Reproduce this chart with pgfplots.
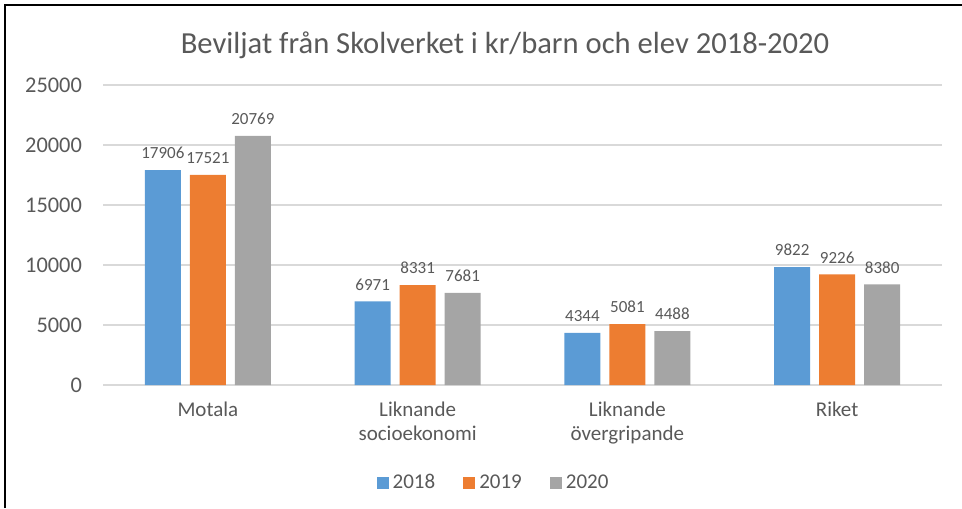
\documentclass[border=0pt]{standalone}
\usepackage{fontspec}
\setmainfont{Carlito}
\usepackage{pgfplots}
\pgfplotsset{compat=1.18}
\definecolor{c2018}{HTML}{5B9BD5}
\definecolor{c2019}{HTML}{ED7D31}
\definecolor{c2020}{HTML}{A5A5A5}
\definecolor{txtgray}{HTML}{595959}
\definecolor{gridgray}{HTML}{D9D9D9}

\begin{document}
\begin{tikzpicture}
\useasboundingbox (0,0) rectangle (481pt,-254pt);
% chart frame (cut off on the right and at the bottom)
\draw[line width=1pt] (2.5pt,-254pt) -- (2.5pt,-2.5pt) -- (481pt,-2.5pt);
\node[font=\fontsize{15.3}{18}\selectfont, text=txtgray] at (252.5pt,-22.5pt)
  {Beviljat från Skolverket i kr/barn och elev 2018-2020};
\begin{axis}[
    at={(51.5pt,-192.5pt)}, anchor=south west,
    scale only axis, width=419.5pt, height=150pt,
    ybar=4.5pt, bar width=18pt,
    xmin=-0.5, xmax=3.5, ymin=0, ymax=25000,
    xtick={0,1,2,3},
    xticklabels={Motala,{Liknande\\socioekonomi},{Liknande\\övergripande},Riket},
    ytick={0,5000,...,25000},
    scaled y ticks=false,
    /pgf/number format/1000 sep={},
    /pgf/number format/assume math mode=true,
    axis line style={draw=none},
    major tick length=0pt,
    ymajorgrids,
    grid style={line width=0.6pt, gridgray},
    ticklabel style={font=\fontsize{10.5}{12}\selectfont, text=txtgray},
    yticklabel style={font=\fontsize{11.2}{13}\selectfont, xshift=-7pt},
    xticklabel style={align=center, yshift=-5pt},
    nodes near coords,
    every node near coord/.append style={font=\fontsize{8.5}{10}\selectfont, text=txtgray, yshift=2pt},
    legend style={at={(0.4667,-0.3267)}, anchor=center, legend columns=3, draw=none,
      font=\fontsize{10.5}{12}\selectfont, text=txtgray,
      /tikz/every even column/.append style={column sep=12pt}},
    legend image code/.code={\fill[#1] (0pt,-3pt) rectangle (6pt,3pt);},
]
\addplot[fill=c2018, draw=none] coordinates {(0,17906) (1,6971) (2,4344) (3,9822)};
\addplot[fill=c2019, draw=none] coordinates {(0,17521) (1,8331) (2,5081) (3,9226)};
\addplot[fill=c2020, draw=none] coordinates {(0,20769) (1,7681) (2,4488) (3,8380)};
\legend{2018,2019,2020}
\end{axis}
\end{tikzpicture}
\end{document}
